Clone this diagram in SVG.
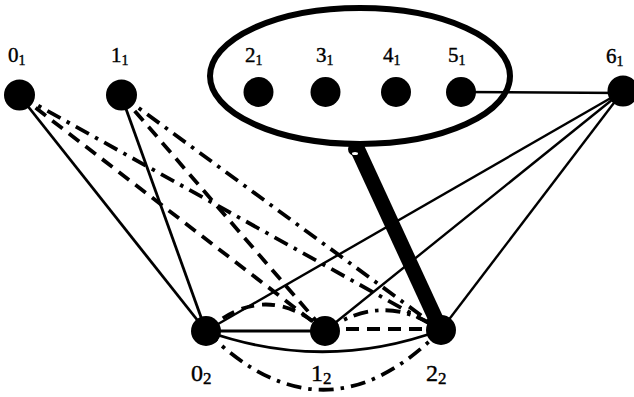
<svg xmlns="http://www.w3.org/2000/svg" width="634" height="397" viewBox="0 0 634 397">
<defs>
<style>
.solid{stroke:#000;stroke-width:2.8;fill:none}
.thin{stroke:#000;stroke-width:2.4;fill:none}
.dash{stroke:#000;stroke-width:3.8;fill:none;stroke-dasharray:13 8}
.dashdot{stroke:#000;stroke-width:3.8;fill:none;stroke-dasharray:15 7 3.5 7}
.node{fill:#000}
.lbl{font-family:"Liberation Serif","Times New Roman",serif;font-size:21px;fill:#000;stroke:#000;stroke-width:0.4}
.lblb{font-family:"Liberation Serif","Times New Roman",serif;font-size:24px;fill:#000;stroke:#000;stroke-width:0.4}
.sub{font-size:14px}
.subb{font-size:17px}
</style>
</defs>
<rect width="634" height="397" fill="#fff"/>
<g id="connectors">
<line class="solid" x1="19" y1="95" x2="206" y2="331"/>
<line class="solid" x1="121" y1="95" x2="206" y2="331"/>
<line class="dash" x1="19" y1="95" x2="325" y2="331"/>
<line class="dash" x1="121" y1="95" x2="325" y2="331"/>
<line class="dashdot" x1="19" y1="95" x2="441" y2="330"/>
<line class="dashdot" x1="121" y1="95" x2="441" y2="330"/>
<line class="thin" x1="623" y1="91" x2="206" y2="331"/>
<line class="thin" x1="623" y1="91" x2="325" y2="331"/>
<line class="thin" x1="623" y1="91" x2="441" y2="330"/>
<line class="thin" x1="461" y1="92" x2="623" y2="93"/>
<line class="solid" x1="206" y1="331" x2="325" y2="331"/>
<line class="dash" x1="325" y1="329" x2="441" y2="329"/>
<path class="dash" d="M206,331 Q266,278 325,331"/>
<path class="dashdot" d="M325,331 Q383,290 441,330"/>
<path class="solid" d="M206,331 Q324,373 441,330"/>
<path class="dashdot" d="M206,331 Q324,449 441,330"/>
<line stroke="#000" stroke-width="15" x1="357" y1="148" x2="440" y2="328"/>
</g>
<g id="cluster">
<ellipse cx="360" cy="76" rx="150" ry="68" fill="none" stroke="#000" stroke-width="6"/>
<circle cx="355" cy="149" r="7" class="node"/>
<ellipse cx="355" cy="153.5" rx="3" ry="1.5" fill="#fff"/>
</g>
<g id="n01"><circle class="node" cx="19.5" cy="95" r="15.5"/><text class="lbl" x="8" y="62">0<tspan class="sub" dy="3">1</tspan></text></g>
<g id="n11"><circle class="node" cx="121.5" cy="95" r="15.5"/><text class="lbl" x="111" y="62">1<tspan class="sub" dy="3">1</tspan></text></g>
<g id="n21"><circle class="node" cx="258.5" cy="92" r="15"/><text class="lbl" x="245" y="62">2<tspan class="sub" dy="3">1</tspan></text></g>
<g id="n31"><circle class="node" cx="325.5" cy="92" r="15"/><text class="lbl" x="316" y="62">3<tspan class="sub" dy="3">1</tspan></text></g>
<g id="n41"><circle class="node" cx="396" cy="92" r="15"/><text class="lbl" x="383" y="62">4<tspan class="sub" dy="3">1</tspan></text></g>
<g id="n51"><circle class="node" cx="461" cy="92" r="15"/><text class="lbl" x="448" y="62">5<tspan class="sub" dy="3">1</tspan></text></g>
<g id="n61"><circle class="node" cx="623" cy="91" r="15.5"/><text class="lbl" x="606" y="63">6<tspan class="sub" dy="3">1</tspan></text></g>
<g id="n02"><circle class="node" cx="206" cy="331" r="15"/><text class="lblb" x="191" y="381">0<tspan class="subb" dy="3">2</tspan></text></g>
<g id="n12"><circle class="node" cx="325" cy="331" r="15"/><text class="lblb" x="311" y="381">1<tspan class="subb" dy="3">2</tspan></text></g>
<g id="n22"><circle class="node" cx="441" cy="330" r="15"/><text class="lblb" x="426" y="381">2<tspan class="subb" dy="3">2</tspan></text></g>
</svg>
